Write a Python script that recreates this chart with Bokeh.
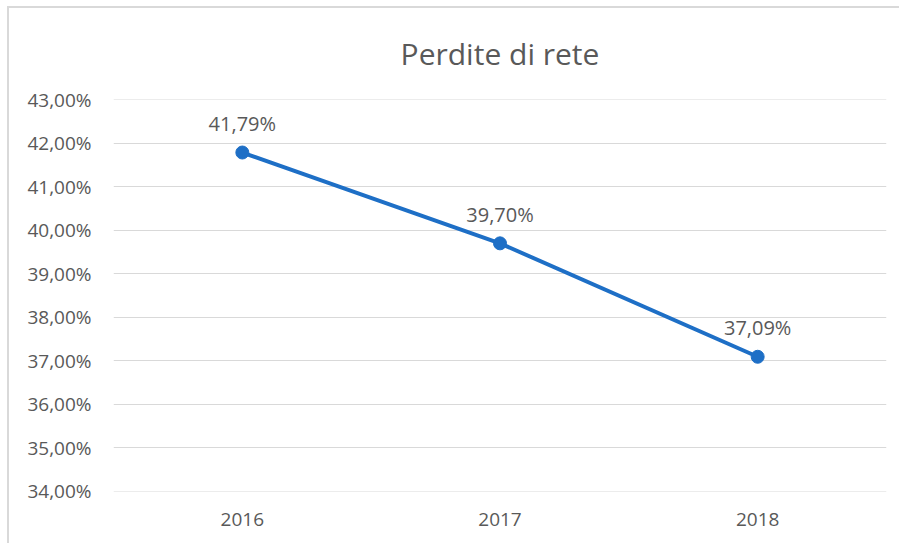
from bokeh.plotting import figure
from bokeh.models import FactorRange, Range1d, FixedTicker, ColumnDataSource, Title
from bokeh.core.properties import value
from bokeh.embed import file_html
from bokeh.resources import INLINE

years = ["2016", "2017", "2018"]
losses = [41.79, 39.70, 37.09]
point_labels = ["41,79%", "39,70%", "37,09%"]
y_ticks = [34, 35, 36, 37, 38, 39, 40, 41, 42, 43]
y_tick_labels = ["34,00%", "35,00%", "36,00%", "37,00%", "38,00%",
                 "39,00%", "40,00%", "41,00%", "42,00%", "43,00%"]

FONT = "Open Sans"
TXT = "#595959"
BLUE = "#1E6FC6"

p = figure(width=892, height=537, x_range=FactorRange(*years, range_padding=0),
           y_range=Range1d(33.99, 43.01), output_backend="svg", toolbar_location=None,
           min_border_left=104, min_border_right=15, min_border_top=91, min_border_bottom=54)
p.styles = {"border-top": "2px solid #d9d9d9", "border-left": "2px solid #d9d9d9",
            "margin-left": "7px", "margin-top": "6px"}
p.outline_line_color = None
p.background_fill_color = "white"
p.border_fill_color = "white"

t = Title(text="Perdite di rete", align="center", vertical_align="top", text_font=FONT,
          text_font_size="30px", text_color=TXT, text_font_style="normal", standoff=47)
p.add_layout(t, "above")

p.xgrid.grid_line_color = None
p.ygrid.grid_line_color = "#d9d9d9"
p.ygrid.grid_line_width = 1
p.yaxis.ticker = FixedTicker(ticks=y_ticks)
p.yaxis.major_label_overrides = {t_: l for t_, l in zip(y_ticks, y_tick_labels)}

for ax in (p.xaxis, p.yaxis):
    ax.axis_line_color = None
    ax.major_tick_line_color = None
    ax.minor_tick_line_color = None
    ax.major_label_text_font = FONT
    ax.major_label_text_font_size = "19px"
    ax.major_label_text_color = TXT
p.yaxis.major_label_standoff = 16
p.xaxis.major_label_standoff = 15

src = ColumnDataSource(dict(x=years, y=losses, lab=point_labels))
p.line("x", "y", source=src, line_color=BLUE, line_width=4)
p.scatter("x", "y", source=src, size=13, fill_color=BLUE, line_color=BLUE)
p.text("x", "y", text="lab", source=src, y_offset=-29, text_align="center",
       text_baseline="middle", text_font=value(FONT), text_font_size="20px", text_color=TXT)

open("out.html", "w").write(file_html(p, INLINE))
